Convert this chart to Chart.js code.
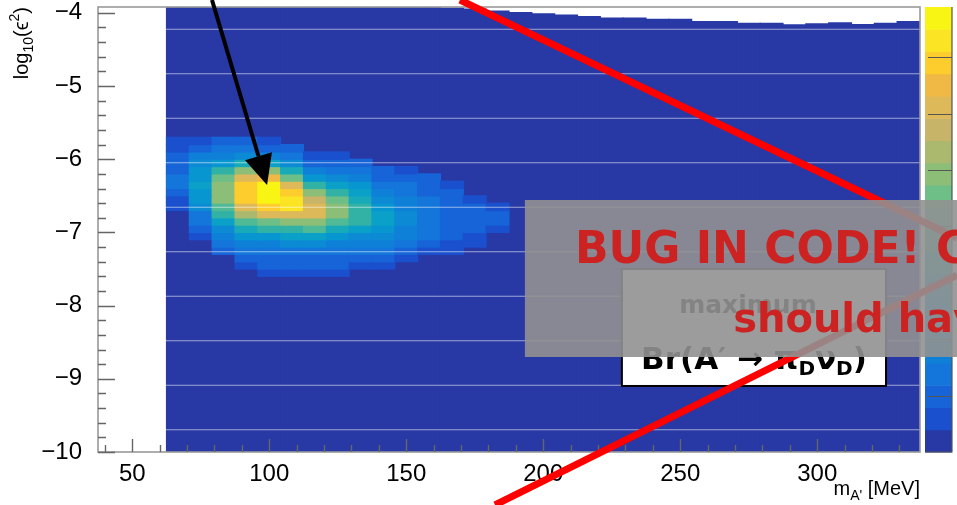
<!DOCTYPE html>
<html>
<head>
<meta charset="utf-8">
<script src="https://cdn.jsdelivr.net/npm/chart.js@4.4.0/dist/chart.umd.min.js"></script>
<style>
  html, body { margin: 0; padding: 0; background: #fff; }
  #wrap { position: relative; width: 957px; height: 505px; }
</style>
</head>
<body>
<div id="wrap"><canvas id="chart"></canvas></div>
<script>
// mass bin centres, m_A' [MeV]
const massBins = [66.67, 75.00, 83.33, 91.67, 100.00, 108.33, 116.67, 125.00, 133.33, 141.67,
  150.00, 158.33, 166.67, 175.00, 183.33, 191.67, 200.00, 208.33, 216.67, 225.00,
  233.33, 241.67, 250.00, 258.33, 266.67, 275.00, 283.33, 291.67, 300.00, 308.33,
  316.67, 325.00, 333.33];

// upper edge of the filled region (log10 eps^2), one per mass bin
const upperEdge = [-3.92, -3.92, -3.92, -3.92, -3.92, -3.92, -3.92, -3.92, -3.92, -3.92,
  -3.92, -3.92, -3.935, -3.95, -3.975, -3.995, -4.015, -4.03, -4.05, -4.07,
  -4.07, -4.09, -4.09, -4.12, -4.12, -4.145, -4.145, -4.165, -4.15, -4.135,
  -4.16, -4.145, -4.12];

// the bright blob: first row top edge per column, then colour level of each 0.1 row going down
const blobTop = [-5.7, -5.7, -5.7, -5.7, -5.7, -5.8, -5.9, -5.9, -6.0, -6.1, -6.1, -6.2, -6.3, -6.5, -6.6];
const blobLevels = [
  [1, 1, 2, 2, 2, 3, 3, 2, 1, 1],
  [1, 2, 4, 5, 6, 6, 7, 6, 6, 5, 3, 3, 2, 1],
  [2, 3, 4, 6, 9, 11, 12, 12, 12, 10, 9, 7, 5, 4, 3, 2],
  [2, 3, 5, 8, 12, 15, 17, 17, 17, 15, 13, 10, 8, 6, 4, 3, 2, 1],
  [1, 2, 4, 7, 12, 16, 19, 19, 19, 17, 15, 11, 9, 6, 4, 3, 2, 2, 1],
  [2, 3, 5, 8, 11, 15, 17, 18, 18, 15, 12, 9, 7, 5, 3, 2, 2, 1],
  [1, 2, 4, 6, 9, 12, 14, 15, 15, 12, 10, 7, 5, 3, 2, 2, 1],
  [1, 2, 3, 5, 7, 9, 11, 12, 12, 10, 8, 6, 4, 3, 2, 2, 1],
  [2, 3, 4, 6, 7, 8, 9, 9, 9, 7, 5, 4, 3, 2, 1],
  [2, 2, 3, 4, 5, 6, 7, 7, 6, 5, 4, 3, 2, 1],
  [1, 2, 3, 3, 4, 4, 5, 5, 4, 4, 3, 2, 1],
  [2, 2, 2, 3, 3, 3, 3, 3, 3, 2, 1],
  [1, 2, 2, 2, 2, 2, 2, 2, 1, 1],
  [1, 2, 2, 2, 2, 1, 1],
  [1, 2, 2, 1]
];
const rowHeight = 0.1;

// axes
const xRange = [37.5, 337.5];
const yRange = [-10, -3.92];
const xLabelTicks = [50, 100, 150, 200, 250, 300];
const yLabelTicks = [-10, -9, -8, -7, -6, -5, -4];
const stripeLines = [-9.696, -9.088, -8.48, -7.872, -7.264, -6.656, -6.048, -5.44, -4.832, -4.224];
const zMax = 7.89;
const zTicks = [1, 2, 3, 4, 5, 6, 7];

// colour levels, bottom to top of the palette
const palette = ['#2838a5', '#1a50cd', '#1664d8', '#1476da', '#0f80d7', '#0c8ad4', '#0896d0', '#0aa0c8',
  '#19aab9', '#32b2a5', '#50b996', '#6ebe87', '#8cbe78', '#aab96e', '#c8b469', '#deb95a',
  '#f0b946', '#fccd2d', '#fae423', '#f8f514'];

// annotations, in data units
const arrowLine = [79.1, -3.824, 99.2, -6.352];
const crossLines = [[169.6, -3.824, 351, -7.076], [182.4, -10.724, 351, -7.582]];
const warnBox = { x0: 193.3, x1: 360, y0: -6.557, y1: -8.702 };
const noteBox = { x0: 228.7, x1: 325.1, y0: -7.50, y1: -9.098 };

const FONT = 'Liberation Sans, Arial, sans-serif';

// build bar cells
const backgroundCells = massBins.map((m, i) => ({ x: m, y: [yRange[0], upperEdge[i]], lvl: 0 }));
const rowCount = Math.max(...blobLevels.map(c => c.length));
const rowSets = [];
for (let j = 0; j < rowCount; j++) {
  const cells = [];
  blobLevels.forEach((col, i) => {
    if (j < col.length) {
      const top = blobTop[i] - rowHeight * j;
      cells.push({ x: massBins[i], y: [top - rowHeight, top], lvl: col[j] });
    }
  });
  rowSets.push(cells);
}

const cellColor = c => palette[c.raw ? c.raw.lvl : 0];

const datasets = [{
  data: backgroundCells, backgroundColor: cellColor, order: 2
}].concat(rowSets.map(cells => ({ data: cells, backgroundColor: cellColor, order: 1 })));

function runsWidth(ctx, runs) {
  let w = 0;
  runs.forEach(r => { ctx.font = r.font; w += ctx.measureText(r.t).width; });
  return w;
}
function drawRuns(ctx, runs, x, y) {
  let cx = x;
  runs.forEach(r => {
    ctx.font = r.font;
    ctx.fillText(r.t, cx, y + (r.dy || 0));
    cx += ctx.measureText(r.t).width;
  });
}

const rootStyle = {
  id: 'rootStyle',
  afterDatasetsDraw(chart) {
    // light bin-row lines over the histogram
    const ctx = chart.ctx, a = chart.chartArea, ys = chart.scales.y;
    ctx.save();
    ctx.strokeStyle = 'rgba(255,255,255,0.55)';
    ctx.lineWidth = 1.2;
    ctx.beginPath();
    stripeLines.forEach(v => {
      const py = ys.getPixelForValue(v);
      ctx.moveTo(a.left, py); ctx.lineTo(a.right, py);
    });
    ctx.stroke();
    ctx.restore();
  },
  afterDraw(chart) {
    const ctx = chart.ctx, a = chart.chartArea;
    const xs = chart.scales.x, ys = chart.scales.y, zs = chart.scales.zAxis;
    const X = v => xs.getPixelForValue(v), Y = v => ys.getPixelForValue(v);
    ctx.save();

    // frame
    ctx.strokeStyle = '#999';
    ctx.lineWidth = 1.6;
    ctx.strokeRect(a.left, a.top, a.right - a.left, a.bottom - a.top);

    // inward ticks
    ctx.strokeStyle = '#666';
    ctx.lineWidth = 1.4;
    ctx.beginPath();
    for (let v = -10; v <= -3.999; v += 0.2) {
      const major = Math.abs(v - Math.round(v)) < 0.01;
      const py = Math.round(Y(v)) + 0.5;
      ctx.moveTo(a.left, py); ctx.lineTo(a.left + (major ? 17 : 8), py);
    }
    for (let v = 40; v <= 330; v += 10) {
      const px = Math.round(X(v)) + 0.5;
      ctx.moveTo(px, a.bottom); ctx.lineTo(px, a.bottom - (v % 50 === 0 ? 13 : 7));
    }
    ctx.stroke();

    // colour bar
    const cbL = a.right + 5, cbR = a.right + 32;
    palette.forEach((c, k) => {
      const lo = zs.getPixelForValue(zMax * k / palette.length);
      const hi = zs.getPixelForValue(zMax * (k + 1) / palette.length);
      ctx.fillStyle = c;
      ctx.fillRect(cbL, hi, cbR - cbL, lo - hi + 0.5);
    });
    ctx.strokeStyle = '#555';
    ctx.lineWidth = 1.2;
    ctx.beginPath();
    ctx.moveTo(cbR, a.top); ctx.lineTo(cbR, a.bottom); ctx.lineTo(cbL, a.bottom);
    zTicks.forEach(t => {
      const py = Math.round(zs.getPixelForValue(t)) + 0.5;
      ctx.moveTo(cbR, py); ctx.lineTo(cbR - 24, py);
    });
    ctx.stroke();

    // axis titles
    ctx.fillStyle = '#000';
    ctx.textAlign = 'left';
    ctx.textBaseline = 'alphabetic';
    const yTitle = [
      { t: 'log', font: '20px ' + FONT },
      { t: '10', font: '14px ' + FONT, dy: 5 },
      { t: '(ϵ', font: '20px ' + FONT },
      { t: '2', font: '14px ' + FONT, dy: -9 },
      { t: ')', font: '20px ' + FONT }
    ];
    ctx.save();
    ctx.translate(a.left - 70, a.top);
    ctx.rotate(-Math.PI / 2);
    drawRuns(ctx, yTitle, -runsWidth(ctx, yTitle), 0);
    ctx.restore();
    const xTitle = [
      { t: 'm', font: '20px ' + FONT },
      { t: 'A\'', font: '14px ' + FONT, dy: 5 },
      { t: ' [MeV]', font: '20px ' + FONT }
    ];
    drawRuns(ctx, xTitle, a.right - runsWidth(ctx, xTitle), a.bottom + 43);

    // arrow to the maximum
    const ax0 = X(arrowLine[0]), ay0 = Y(arrowLine[1]), ax1 = X(arrowLine[2]), ay1 = Y(arrowLine[3]);
    const ang = Math.atan2(ay1 - ay0, ax1 - ax0);
    const headLen = 30, headHalf = 14;
    const bx = ax1 - headLen * Math.cos(ang), by = ay1 - headLen * Math.sin(ang);
    ctx.strokeStyle = '#000';
    ctx.fillStyle = '#000';
    ctx.lineWidth = 4;
    ctx.beginPath(); ctx.moveTo(ax0, ay0); ctx.lineTo(bx, by); ctx.stroke();
    ctx.beginPath();
    ctx.moveTo(ax1, ay1);
    ctx.lineTo(bx + headHalf * Math.sin(ang), by - headHalf * Math.cos(ang));
    ctx.lineTo(bx - headHalf * Math.sin(ang), by + headHalf * Math.cos(ang));
    ctx.closePath(); ctx.fill();

    // white note box
    const nx0 = X(noteBox.x0), nx1 = X(noteBox.x1), ny0 = Y(noteBox.y0), ny1 = Y(noteBox.y1);
    ctx.fillStyle = '#fff';
    ctx.fillRect(nx0, ny0, nx1 - nx0, ny1 - ny0);
    ctx.strokeStyle = '#000';
    ctx.lineWidth = 2;
    ctx.strokeRect(nx0, ny0, nx1 - nx0, ny1 - ny0);
    ctx.fillStyle = '#000';
    ctx.textAlign = 'center';
    ctx.font = 'bold 25px DejaVu Sans';
    const midX = (nx0 + nx1) / 2;
    ctx.fillText('maximum', midX - 6, Y(-8.101));
    ctx.textAlign = 'left';
    const brRuns = [
      { t: 'Br(A\u2032 \u2192 \u03c0', font: 'bold 31px DejaVu Sans' },
      { t: 'D', font: 'bold 20px DejaVu Sans', dy: 6 },
      { t: '\u03bd', font: 'bold 31px DejaVu Sans' },
      { t: 'D', font: 'bold 20px DejaVu Sans', dy: 6 },
      { t: ')', font: 'bold 31px DejaVu Sans' }
    ];
    drawRuns(ctx, brRuns, midX - runsWidth(ctx, brRuns) / 2, Y(-8.866));

    // red cross
    ctx.strokeStyle = '#ff0000';
    ctx.lineWidth = 7;
    crossLines.forEach(l => {
      ctx.beginPath(); ctx.moveTo(X(l[0]), Y(l[1])); ctx.lineTo(X(l[2]), Y(l[3])); ctx.stroke();
    });

    // grey warning panel
    const wx0 = X(warnBox.x0), wx1 = X(warnBox.x1), wy0 = Y(warnBox.y0), wy1 = Y(warnBox.y1);
    ctx.fillStyle = 'rgba(145,145,145,0.9)';
    ctx.fillRect(wx0, wy0, wx1 - wx0, wy1 - wy0);
    ctx.fillStyle = '#cc2222';
    ctx.font = 'bold 44px DejaVu Sans';
    ctx.fillText('BUG IN CODE! Check', X(211.6), Y(-7.418));
    ctx.font = 'bold 40px DejaVu Sans';
    ctx.fillText('should have', X(269.3), Y(-8.361));

    ctx.restore();
  }
};

Chart.defaults.font.family = FONT;

const noPad = s => { s.paddingTop = 0; s.paddingBottom = 0; s.paddingLeft = 0; s.paddingRight = 0; };

new Chart(document.getElementById('chart'), {
  type: 'bar',
  data: { datasets: datasets },
  options: {
    responsive: true,
    maintainAspectRatio: false,
    animation: false,
    events: [],
    layout: { padding: { top: 7, left: 0, right: 0, bottom: 0 } },
    datasets: { bar: { grouped: false, barPercentage: 1, categoryPercentage: 1, borderWidth: 0, inflateAmount: 0.6, xAxisID: 'x', yAxisID: 'y' } },
    plugins: { legend: { display: false }, tooltip: { enabled: false } },
    scales: {
      x: {
        type: 'linear', position: 'bottom', min: xRange[0], max: xRange[1], offset: false,
        afterFit: s => { s.height = 53; noPad(s); },
        afterBuildTicks: s => { s.ticks = xLabelTicks.map(v => ({ value: v })); },
        ticks: { color: '#000', font: { size: 24 }, padding: 0, maxRotation: 0, autoSkip: false },
        grid: { display: false },
        border: { display: false }
      },
      y: {
        type: 'linear', position: 'left', min: yRange[0], max: yRange[1], beginAtZero: false,
        afterFit: s => { s.width = 98; noPad(s); },
        afterBuildTicks: s => { s.ticks = yLabelTicks.map(v => ({ value: v })); },
        ticks: { color: '#000', font: { size: 24 }, padding: 8, autoSkip: false,
          callback: v => String(v).replace('-', '\u2212') },
        grid: { display: false },
        border: { display: false }
      },
      zAxis: {
        type: 'linear', position: 'right', min: 0, max: zMax,
        afterFit: s => { s.width = 37; noPad(s); },
        ticks: { display: false },
        grid: { display: false },
        border: { display: false }
      }
    }
  },
  plugins: [rootStyle]
});
</script>
</body>
</html>
